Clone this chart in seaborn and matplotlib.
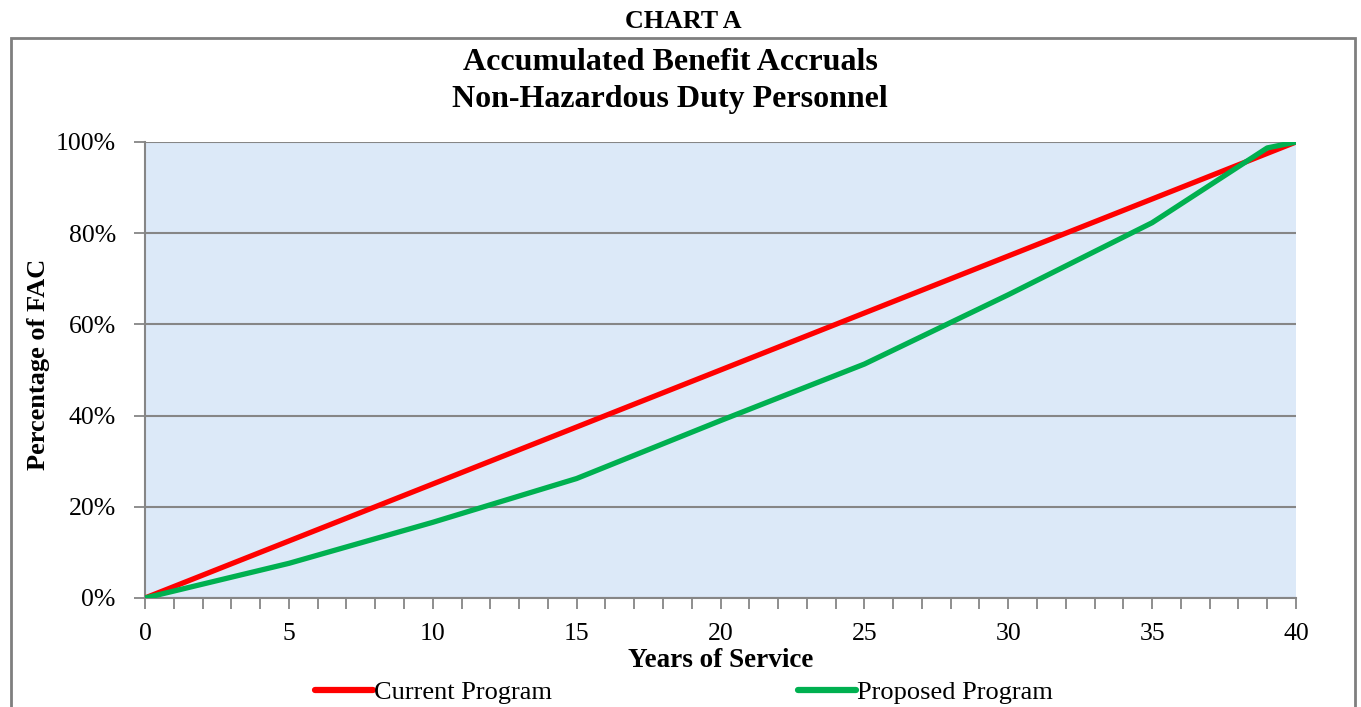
import matplotlib
matplotlib.use("Agg")
import matplotlib.pyplot as plt
import seaborn as sns
import pandas as pd
from matplotlib.patches import Rectangle
from matplotlib.ticker import MultipleLocator, PercentFormatter

years = [0, 5, 10, 15, 20, 25, 30, 35, 39, 40]
current = [0, 12.5, 25, 37.5, 50, 62.5, 75, 87.5, 97.5, 100]
proposed = [0, 7.6, 16.6, 26.2, 38.9, 51.3, 66.5, 82.3, 98.7, 100]
series_names = ["Current Program", "Proposed Program"]

df = pd.DataFrame({
    "Years": years * 2,
    "Pct": current + proposed,
    "Program": [series_names[0]] * len(years) + [series_names[1]] * len(years),
})

sns.set_theme(style="white")
plt.rcParams["font.family"] = ["Liberation Serif", "DejaVu Serif"]
plt.rcParams["text.color"] = "black"
plt.rcParams["axes.labelcolor"] = "black"

W, H = 1361, 707
fig = plt.figure(figsize=(W / 100, H / 100), dpi=100)
ax = fig.add_axes([145 / W, 1 - 598 / H, (1296 - 145) / W, (598 - 142) / H])
ax.set_facecolor("#dce9f8")

sns.lineplot(data=df, x="Years", y="Pct", hue="Program",
             palette=["#ff0000", "#00b050"], linewidth=3.8, ax=ax,
             legend=False, zorder=3)

ax.set_xlim(0, 40)
ax.set_ylim(0, 100)
ax.xaxis.set_major_locator(MultipleLocator(5))
ax.xaxis.set_minor_locator(MultipleLocator(1))
ax.yaxis.set_major_locator(MultipleLocator(20))
ax.yaxis.set_major_formatter(PercentFormatter(decimals=0))

grey = "#868686"
ax.grid(axis="y", color=grey, linewidth=1.5, zorder=1)
ax.grid(axis="x", visible=False)
for s in ["top", "right"]:
    ax.spines[s].set_visible(False)
for s in ["left", "bottom"]:
    ax.spines[s].set_color(grey)
    ax.spines[s].set_linewidth(1.5)

ax.tick_params(axis="both", which="both", direction="out", color=grey,
               width=1.3, length=8, labelsize=18.5, labelcolor="black")
ax.tick_params(axis="x", which="major", pad=10)
ax.tick_params(axis="y", which="major", pad=13)
ax.tick_params(left=True, bottom=True)
ax.tick_params(axis="x", which="minor", bottom=True, length=8)

ax.set_xlabel("Years of Service", fontsize=19.5, fontweight="bold", labelpad=2)
ax.set_ylabel("Percentage of FAC", fontsize=19, fontweight="bold")
ax.yaxis.set_label_coords((50 - 145) / 1151, (598 - 364) / 456)

# Chart titles
fig.text(683 / W, 1 - 22 / H, "CHART A", ha="center", va="center",
         fontsize=18.7, fontweight="bold")
fig.text(670 / W, 1 - 63 / H, "Accumulated Benefit Accruals", ha="center",
         va="center", fontsize=23, fontweight="bold")
fig.text(670 / W, 1 - 100 / H, "Non-Hazardous Duty Personnel", ha="center",
         va="center", fontsize=23, fontweight="bold")

# Outer chart border
fig.patches.append(Rectangle((11 / W, -0.05), (1355 - 11) / W, 1 - 38 / H + 0.05,
                             transform=fig.transFigure, fill=False,
                             edgecolor="#7f7f7f", linewidth=2))

# Legend
handles = [plt.Line2D([], [], color=c, linewidth=4.5, solid_capstyle="round")
           for c in ["#ff0000", "#00b050"]]
fig.legend(handles, series_names, loc="center", bbox_to_anchor=(684 / W, 1 - 692 / H),
           ncol=2, frameon=False, fontsize=19, handlelength=2.2,
           handletextpad=0.05, columnspacing=9.3, borderpad=0)

fig.savefig("out.png", dpi=100)
